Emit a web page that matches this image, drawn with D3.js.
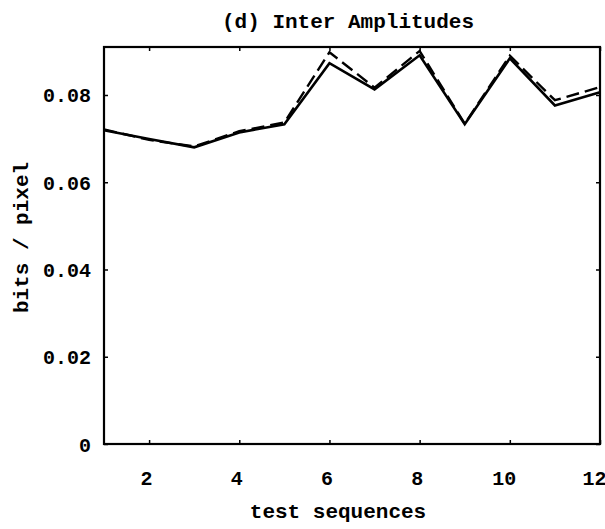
<!DOCTYPE html>
<html>
<head>
<meta charset="utf-8">
<script src="https://cdn.jsdelivr.net/npm/d3@7"></script>
<style>
  html, body { margin: 0; padding: 0; background: #fff; }
  svg { display: block; }
  text { font-family: "Liberation Mono", "Courier New", monospace; font-weight: bold; fill: #000; }
</style>
</head>
<body>
<svg id="chart" width="605" height="529"></svg>
<script>
// Bit rate per test sequence for the inter-frame amplitude coder
const sequences = [1, 2, 3, 4, 5, 6, 7, 8, 9, 10, 11, 12];
const solidRate  = [0.0719, 0.0699, 0.0680, 0.0714, 0.0733, 0.0873, 0.0813, 0.0891, 0.0733, 0.0884, 0.0776, 0.0806];
const dashedRate = [0.0721, 0.0697, 0.0682, 0.0717, 0.0737, 0.0898, 0.0817, 0.0901, 0.0734, 0.0890, 0.0788, 0.0818];
const xTicks = [2, 4, 6, 8, 10, 12];
const yTicks = [0, 0.02, 0.04, 0.06, 0.08];

const svg = d3.select("#chart");
const plotLeft = 104, plotRight = 600, plotTop = 47, plotBottom = 444;

const x = d3.scaleLinear().domain([1, 12]).range([plotLeft, plotRight]);
const y = d3.scaleLinear().domain([0, 0.091]).range([plotBottom, plotTop]);

// Inward ticks on all four sides of the frame
const tickLen = 4;
const xAxisBottom = svg.append("g").attr("transform", `translate(0,${plotBottom})`)
  .call(d3.axisBottom(x).tickValues(xTicks).tickSizeInner(-tickLen).tickSizeOuter(0).tickFormat(d3.format("d")));
const xAxisTop = svg.append("g").attr("transform", `translate(0,${plotTop})`)
  .call(d3.axisTop(x).tickValues(xTicks).tickSizeInner(-tickLen).tickSizeOuter(0).tickFormat(""));
const yAxisLeft = svg.append("g").attr("transform", `translate(${plotLeft},0)`)
  .call(d3.axisLeft(y).tickValues(yTicks).tickSizeInner(-tickLen).tickSizeOuter(0)
    .tickFormat(d => d === 0 ? "0" : d3.format(".2f")(d)));
const yAxisRight = svg.append("g").attr("transform", `translate(${plotRight},0)`)
  .call(d3.axisRight(y).tickValues(yTicks).tickSizeInner(-tickLen).tickSizeOuter(0).tickFormat(""));

[xAxisBottom, xAxisTop, yAxisLeft, yAxisRight].forEach(a => {
  a.select(".domain").remove();
  a.selectAll(".tick line").attr("stroke", "#000").attr("stroke-width", 1.5);
  a.selectAll(".tick text")
    .style("font-family", '"Liberation Mono", "Courier New", monospace')
    .style("font-weight", "bold")
    .style("font-size", "20px")
    .attr("fill", "#000");
});
// Numbers sit a little left of their ticks; the last one runs off the page edge
xAxisBottom.selectAll(".tick text")
  .attr("y", 34).attr("dy", "0.35em")
  .attr("dx", d => -3 * String(d).length);
yAxisLeft.selectAll(".tick text").attr("x", -13).attr("dy", "0.35em");

// Frame
svg.append("rect")
  .attr("x", plotLeft).attr("y", plotTop)
  .attr("width", plotRight - plotLeft).attr("height", plotBottom - plotTop)
  .attr("fill", "none").attr("stroke", "#000").attr("stroke-width", 2.2);

const line = d3.line().x((d, i) => x(sequences[i])).y(d => y(d));

svg.append("path")
  .datum(dashedRate)
  .attr("d", line)
  .attr("fill", "none").attr("stroke", "#000").attr("stroke-width", 2.4)
  .attr("stroke-dasharray", "13,6");

svg.append("path")
  .datum(solidRate)
  .attr("d", line)
  .attr("fill", "none").attr("stroke", "#000").attr("stroke-width", 2.6)
  .attr("stroke-linejoin", "miter");

// Titles
svg.append("text")
  .attr("x", 348).attr("y", 21).attr("dy", "0.35em")
  .attr("text-anchor", "middle").style("font-size", "21px")
  .text("(d) Inter Amplitudes");

svg.append("text")
  .attr("x", (plotLeft + plotRight) / 2 - 14).attr("y", 511).attr("dy", "0.35em")
  .attr("text-anchor", "middle").style("font-size", "21px")
  .text("test sequences");

svg.append("text")
  .attr("transform", `translate(21,${(plotTop + plotBottom) / 2 - 8}) rotate(-90)`)
  .attr("dy", "0.35em")
  .attr("text-anchor", "middle").style("font-size", "21px")
  .text("bits / pixel");
</script>
</body>
</html>
